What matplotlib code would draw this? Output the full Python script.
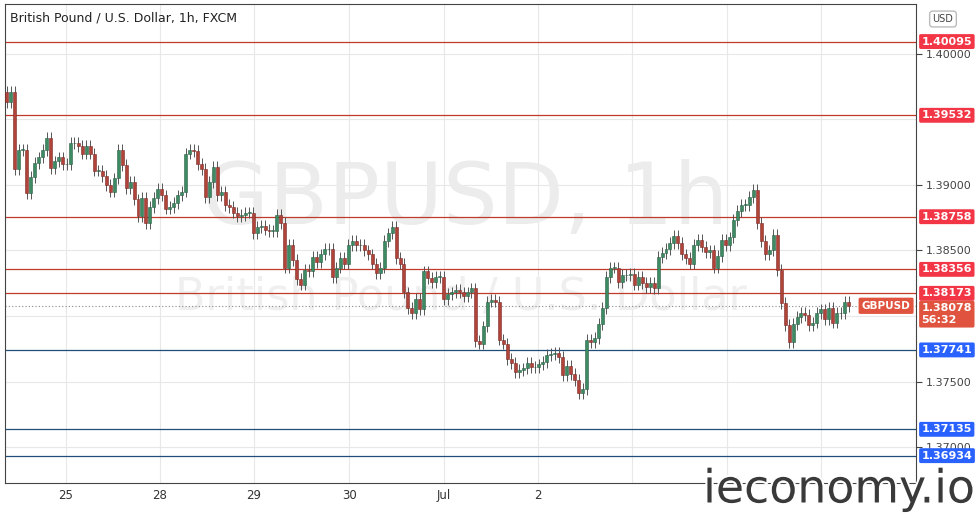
import matplotlib
matplotlib.use("Agg")
import matplotlib.pyplot as plt
import numpy as np
import matplotlib.patheffects as pe

closes = [1.3963,1.3971,1.3912,1.3927,1.3927,1.3894,1.3906,1.3917,1.3921,1.3927,1.3936,1.3913,1.3918,1.3921,1.3916,1.3916,
1.3932,1.3932,1.3930,1.3924,1.3930,1.3924,1.3911,1.3911,1.3907,1.3900,1.3895,1.3905,1.3927,1.3915,1.3898,1.3902,
1.3889,1.3876,1.3890,1.3871,1.3883,1.3890,1.3897,1.3892,1.3882,1.3883,1.3886,1.3892,1.3895,1.3924,1.3927,1.3926,
1.3916,1.3912,1.3891,1.3902,1.3914,1.3892,1.3895,1.3885,1.3883,1.3879,1.3876,1.3877,1.3879,1.3879,1.3863,1.3868,
1.3869,1.3866,1.3865,1.3865,1.3877,1.3871,1.3837,1.3854,1.3843,1.3828,1.3824,1.3835,1.3834,1.3845,1.3841,1.3847,
1.3851,1.3851,1.3830,1.3837,1.3844,1.3840,1.3854,1.3857,1.3854,1.3854,1.3850,1.3847,1.3840,1.3833,1.3837,1.3857,
1.3863,1.3868,1.3844,1.3840,1.3818,1.3806,1.3802,1.3813,1.3805,1.3834,1.3829,1.3826,1.3830,1.3830,1.3813,1.3817,
1.3818,1.3820,1.3818,1.3815,1.3818,1.3821,1.3781,1.3779,1.3792,1.3811,1.3812,1.3811,1.3782,1.3779,1.3767,1.3764,
1.3757,1.3759,1.3760,1.3764,1.3761,1.3761,1.3763,1.3765,1.3770,1.3771,1.3772,1.3769,1.3755,1.3762,1.3756,1.3751,
1.3741,1.3744,1.3782,1.3780,1.3783,1.3794,1.3806,1.3830,1.3837,1.3837,1.3826,1.3831,1.3831,1.3832,1.3824,1.3830,
1.3825,1.3822,1.3825,1.3821,1.3845,1.3848,1.3851,1.3856,1.3861,1.3856,1.3847,1.3844,1.3840,1.3854,1.3858,1.3853,
1.3849,1.3850,1.3837,1.3846,1.3858,1.3854,1.3860,1.3873,1.3880,1.3885,1.3885,1.3891,1.3896,1.3871,1.3857,1.3847,
1.3850,1.3862,1.3835,1.3810,1.3793,1.3780,1.3794,1.3799,1.3802,1.3801,1.3793,1.3795,1.3802,1.3805,1.3798,1.3806,
1.3795,1.3802,1.3802,1.3811,1.38078]
first_open = 1.3971

day_labels = ["25", "28", "29", "30", "Jul", "2"]
day_idx = [14.75, 38.5, 62.25, 86.25, 110.0, 133.75]
extra_grid_idx = [157.5, 181.25, 205.0]

red_levels = [1.40095, 1.39532, 1.38758, 1.38356, 1.38173]
blue_levels = [1.37741, 1.37135, 1.36934]
price_ticks = [1.40000, 1.39000, 1.38500, 1.37500, 1.37000]
last_price = 1.38078

W, H = 979, 517
fig = plt.figure(figsize=(W/100, H/100), dpi=100)
ax = fig.add_axes([5/W, (H-483)/H, (916-5)/W, (483-4)/H])
n = len(closes)
opens = [first_open] + closes[:-1]
x = np.arange(n)
ypx = 13100.0
ax.set_ylim(1.39 - (483-185)/ypx, 1.39 + (185-4)/ypx)
ax.set_xlim(-0.5, -0.5 + 911/3.97)

for xi, o, c in zip(x, opens, closes):
    up = c >= o
    col = '#3d8a63' if up else '#b0433a'
    ec = '#2b5e45' if up else '#7a2b25'
    lo, hi = min(o, c), max(o, c)
    ax.vlines(xi, lo - 0.00045, hi + 0.00045, color='#555555', lw=0.7, zorder=3)
    h = max(hi - lo, 0.00004)
    ax.bar(xi, h, bottom=lo, width=0.75, color=col, edgecolor=ec, lw=0.4, zorder=4)

for t in list(day_idx) + extra_grid_idx:
    ax.axvline(t, color='#e8e8e8', lw=0.8, zorder=0)
for p in [1.40, 1.395, 1.39, 1.385, 1.38, 1.375, 1.37]:
    ax.axhline(p, color='#e8e8e8', lw=0.8, zorder=0)
for p in red_levels:
    ax.axhline(p, color='#c0392b', lw=0.9, zorder=2)
for p in blue_levels:
    ax.axhline(p, color='#1f4e79', lw=0.9, zorder=2)
ax.axhline(last_price, color='#888888', lw=0.8, ls=(0, (1, 2)), zorder=2)

ax.set_xticks(day_idx)
ax.set_xticklabels(day_labels, fontsize=8.5, color='#333333')
ax.tick_params(axis='x', length=0, pad=4)
ax.yaxis.tick_right()
ax.set_yticks(price_ticks)
ax.set_yticklabels([f"{p:.5f}" for p in price_ticks], fontsize=8, color='#444444')
ax.tick_params(axis='y', length=4, color='#444444', pad=3)
for s in ax.spines.values():
    s.set_color('#444444')

# watermarks
ax.text(0.505, 0.59, "GBPUSD, 1h", transform=ax.transAxes, fontsize=62, color='#ececec',
        ha='center', va='center', zorder=1)
ax.text(0.50, 0.388, "British Pound / U.S. Dollar", transform=ax.transAxes, fontsize=32,
        color='#efefef', ha='center', va='center', zorder=1)
ax.text(0.005, 0.985, "British Pound / U.S. Dollar, 1h, FXCM", transform=ax.transAxes,
        fontsize=9, color='#222222', ha='left', va='top', zorder=6)

def tag(p, col, txt, dy=0):
    ax.annotate(txt, xy=(1.0, p), xycoords=('axes fraction', 'data'), xytext=(4, dy),
                textcoords='offset points', fontsize=8, color='white', weight='bold',
                va='center', ha='left', annotation_clip=False, linespacing=1.25,
                bbox=dict(boxstyle='round,pad=0.22,rounding_size=0.15', fc=col, ec='none'), zorder=10)

for p in red_levels:
    tag(p, '#f23645', f"{p:.5f}")
for p in blue_levels:
    tag(p, '#2962ff', f"{p:.5f}")
tag(last_price, '#e0533f', f"{last_price:.5f}\n56:32", dy=-6)
ax.annotate("GBPUSD", xy=(1.0, last_price), xycoords=('axes fraction', 'data'), xytext=(-4, 0),
            textcoords='offset points', fontsize=7.5, color='white', weight='bold', va='center',
            ha='right', annotation_clip=False,
            bbox=dict(boxstyle='round,pad=0.3,rounding_size=0.15', fc='#e0533f', ec='none'), zorder=10)
fig.text(943/W, 1-19/H, "USD", fontsize=7, color='#444444', ha='center', va='center',
         bbox=dict(boxstyle='round,pad=0.3', fc='white', ec='#bbbbbb'))
fig.text(975/W, 1-490/H, "ieconomy.io", fontsize=33, color='#3a3a3a', ha='right', va='center',
         zorder=20, path_effects=[pe.withStroke(linewidth=3, foreground='white')])

fig.savefig("out.png", dpi=100)
